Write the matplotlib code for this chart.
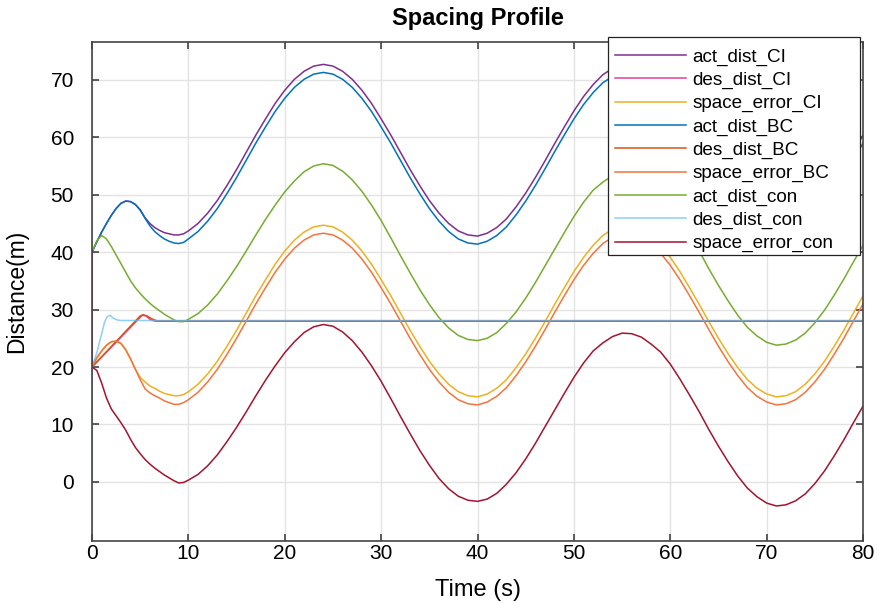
import matplotlib.pyplot as plt
from matplotlib.patches import Rectangle

plt.rcParams['font.family'] = ['Liberation Sans', 'DejaVu Sans']

# sample times (s): half-second steps during the transient, then 1 s
time = [0, 0.5, 1, 1.5, 2, 2.5, 3, 3.5, 4, 4.5,
        5, 5.5, 6, 6.5, 7, 7.5, 8, 8.5, 9, 9.5] + list(range(10, 81))

act_dist_CI = [
    40.0, 41.8, 43.5, 45.0, 46.4, 47.6, 48.5, 48.9, 48.8, 48.3,
    47.4, 46.0, 45.0, 44.3, 43.8, 43.4, 43.2, 43.0, 43.0, 43.2,
    43.7, 45.0, 46.8, 49.0, 51.6, 54.4, 57.4, 60.4, 63.2, 65.9,
    68.2, 70.1, 71.5, 72.4, 72.7, 72.4, 71.5, 70.1, 68.2, 65.9,
    63.2, 60.4, 57.4, 54.4, 51.6, 49.0, 46.8, 45.0, 43.7, 43.0,
    42.8, 43.3, 44.3, 45.8, 47.9, 50.3, 53.0, 55.9, 58.9, 61.8,
    64.6, 67.1, 69.2, 70.9, 72.0, 72.6, 72.6, 72.0, 70.9, 69.2,
    67.1, 64.6, 61.8, 58.9, 55.9, 53.0, 50.3, 47.9, 45.8, 44.3,
    43.3, 42.8, 43.0, 43.7, 45.0, 46.8, 49.0, 51.6, 54.4, 57.4,
    60.4]

act_dist_BC = [
    40.0, 41.8, 43.5, 45.0, 46.4, 47.6, 48.5, 48.9, 48.8, 48.3,
    47.3, 45.9, 44.6, 43.6, 42.9, 42.3, 41.9, 41.6, 41.5, 41.7,
    42.3, 43.6, 45.4, 47.6, 50.2, 53.0, 56.0, 59.0, 61.8, 64.5,
    66.8, 68.7, 70.1, 71.0, 71.3, 71.0, 70.1, 68.7, 66.8, 64.5,
    61.8, 59.0, 56.0, 53.0, 50.2, 47.6, 45.4, 43.6, 42.3, 41.6,
    41.4, 41.9, 42.9, 44.4, 46.5, 48.9, 51.6, 54.5, 57.5, 60.4,
    63.2, 65.7, 67.8, 69.5, 70.6, 71.2, 71.2, 70.6, 69.5, 67.8,
    65.7, 63.2, 60.4, 57.5, 54.5, 51.6, 48.9, 46.5, 44.4, 42.9,
    41.9, 41.4, 41.6, 42.3, 43.6, 45.4, 47.6, 50.2, 53.0, 56.0,
    59.0]

space_error_CI = [
    20.0, 21.6, 22.8, 23.8, 24.4, 24.5, 24.1, 23.0, 21.4, 19.6,
    18.2, 17.4, 16.7, 16.3, 15.8, 15.4, 15.2, 15.0, 15.0, 15.2,
    15.7, 17.0, 18.8, 21.0, 23.6, 26.4, 29.4, 32.4, 35.2, 37.9,
    40.2, 42.1, 43.5, 44.4, 44.7, 44.4, 43.5, 42.1, 40.2, 37.9,
    35.2, 32.4, 29.4, 26.4, 23.6, 21.0, 18.8, 17.0, 15.7, 15.0,
    14.8, 15.3, 16.3, 17.8, 19.9, 22.3, 25.0, 27.9, 30.9, 33.8,
    36.6, 39.1, 41.2, 42.9, 44.0, 44.6, 44.6, 44.0, 42.9, 41.2,
    39.1, 36.6, 33.8, 30.9, 27.9, 25.0, 22.3, 19.9, 17.8, 16.3,
    15.3, 14.8, 15.0, 15.7, 17.0, 18.8, 21.0, 23.6, 26.4, 29.4,
    32.4]

space_error_BC = [
    20.0, 21.6, 22.8, 23.8, 24.4, 24.5, 24.1, 23.0, 21.4, 19.6,
    17.8, 16.2, 15.5, 15.0, 14.6, 14.1, 13.8, 13.5, 13.5, 13.8,
    14.3, 15.6, 17.4, 19.6, 22.2, 25.0, 28.0, 31.0, 33.8, 36.5,
    38.8, 40.7, 42.1, 43.0, 43.3, 43.0, 42.1, 40.7, 38.8, 36.5,
    33.8, 31.0, 28.0, 25.0, 22.2, 19.6, 17.4, 15.6, 14.3, 13.6,
    13.4, 13.9, 14.9, 16.4, 18.5, 20.9, 23.6, 26.5, 29.5, 32.4,
    35.2, 37.7, 39.8, 41.5, 42.6, 43.2, 43.2, 42.6, 41.5, 39.8,
    37.7, 35.2, 32.4, 29.5, 26.5, 23.6, 20.9, 18.5, 16.4, 14.9,
    13.9, 13.4, 13.6, 14.3, 15.6, 17.4, 19.6, 22.2, 25.0, 28.0,
    31.0]

act_dist_con = [
    40.0, 42.0, 42.9, 42.3, 41.0, 39.5, 38.0, 36.5, 35.0, 33.8,
    32.8, 31.9, 31.1, 30.4, 29.8, 29.2, 28.7, 28.2, 27.9, 27.9,
    28.3, 29.3, 30.8, 32.7, 35.0, 37.5, 40.2, 43.0, 45.7, 48.2,
    50.5, 52.4, 54.0, 55.0, 55.4, 55.1, 54.1, 52.6, 50.6, 48.2,
    45.5, 42.5, 39.4, 36.4, 33.5, 30.9, 28.6, 26.8, 25.5, 24.8,
    24.6, 25.0, 26.0, 27.6, 29.6, 32.0, 34.7, 37.6, 40.5, 43.4,
    46.2, 48.7, 50.8, 52.2, 53.3, 53.9, 53.8, 53.2, 52.0, 50.6,
    48.5, 45.9, 43.1, 40.2, 37.1, 34.2, 31.5, 29.0, 26.9, 25.4,
    24.3, 23.8, 24.0, 24.7, 25.9, 27.7, 29.9, 32.5, 35.3, 38.3,
    41.2]

# the con error starts with a jump 40 -> 20 at t = 0
time_err_con = [0] + time
space_error_con = [
    40.0,
    20.0, 19.4, 17.2, 14.6, 12.7, 11.5, 10.3, 9.0, 7.4, 6.0,
    4.9, 3.9, 3.1, 2.4, 1.8, 1.2, 0.7, 0.2, -0.2, -0.1,
    0.3, 1.3, 2.8, 4.7, 7.0, 9.5, 12.2, 15.0, 17.7, 20.2,
    22.5, 24.4, 26.0, 27.0, 27.4, 27.1, 26.1, 24.6, 22.6, 20.2,
    17.5, 14.5, 11.4, 8.4, 5.5, 2.9, 0.6, -1.2, -2.5, -3.2,
    -3.4, -3.0, -2.0, -0.4, 1.6, 4.0, 6.7, 9.6, 12.5, 15.4,
    18.2, 20.7, 22.8, 24.2, 25.3, 25.9, 25.8, 25.2, 24.0, 22.6,
    20.5, 17.9, 15.1, 12.2, 9.1, 6.2, 3.5, 1.0, -1.1, -2.6,
    -3.7, -4.2, -4.0, -3.3, -2.1, -0.3, 1.9, 4.5, 7.3, 10.3,
    13.2]

# desired distances are flat after the start-up ramp
time_des_CI = [0, 5.2, 5.6, 6.0, 6.5, 80]
des_dist_CI = [20.0, 29.0, 28.9, 28.3, 28.0, 28.0]
time_des_BC = [0, 5.0, 5.3, 5.7, 6.2, 6.8, 80]
des_dist_BC = [20.0, 28.9, 29.1, 28.9, 28.4, 28.0, 28.0]
time_des_con = [0, 0, 0.5, 1.0, 1.3, 1.6, 1.9, 2.2, 2.6, 3.0, 80]
des_dist_con = [0.0, 20.0, 22.5, 25.8, 27.8, 28.8, 29.0, 28.5, 28.2, 28.1, 28.1]

fig = plt.figure(figsize=(8.78, 6.04), dpi=100)
ax = fig.add_axes([0.1048, 0.1043, 0.8782, 0.8262])

lw = 1.1
ax.plot(time, act_dist_CI, color='#7E2F8E', lw=lw, label='act_dist_CI')
ax.plot(time_des_CI, des_dist_CI, color='#E0409A', lw=lw, label='des_dist_CI')
ax.plot(time, space_error_CI, color='#EDB120', lw=lw, label='space_error_CI')
ax.plot(time, act_dist_BC, color='#0072BD', lw=lw, label='act_dist_BC')
ax.plot(time_des_BC, des_dist_BC, color='#D95319', lw=lw, label='des_dist_BC')
ax.plot(time, space_error_BC, color='#F4743B', lw=lw, label='space_error_BC')
ax.plot(time, act_dist_con, color='#77AC30', lw=lw, label='act_dist_con')
ax.plot(time_des_con, des_dist_con, color='#5DBCEE', lw=lw, alpha=0.7,
        label='des_dist_con')
ax.plot(time_err_con, space_error_con, color='#A2142F', lw=lw, label='space_error_con')

ax.set_xlim(0, 80)
ax.set_ylim(-10.3, 76.6)
ax.set_xticks(range(0, 81, 10))
ax.set_yticks(range(0, 71, 10))
ax.grid(True, color='#E3E3E3', lw=1.0)
ax.set_axisbelow(True)
ax.tick_params(direction='in', length=5, width=1.1, labelsize=15,
               top=True, right=True, color='#333333')
ax.tick_params(axis='x', pad=2)
ax.tick_params(axis='y', pad=13)
for s in ax.spines.values():
    s.set_color('#444444')
    s.set_linewidth(1.2)

ax.set_title('Spacing Profile', fontsize=17, fontweight='bold', pad=12)
ax.set_xlabel('Time (s)', fontsize=17, labelpad=12)
ax.set_ylabel('Distance(m)', fontsize=16.5, labelpad=16)

# MATLAB-style legend box, a bit wider than its contents
W, H = 878, 604
box = Rectangle((608 / W, 1 - 255 / H), 252 / W, 218 / H,
                transform=fig.transFigure, facecolor='white',
                edgecolor='#222222', lw=0.9, zorder=4, clip_on=False)
ax.add_artist(box)
leg = ax.legend(loc='upper left', bbox_to_anchor=(608 / W, 1 - 41 / H),
                bbox_transform=fig.transFigure, borderaxespad=0,
                fontsize=13.6, handlelength=3.75, handletextpad=0.35,
                labelspacing=0.315, borderpad=0.38, frameon=False)
leg.set_zorder(5)

fig.savefig('out.png', dpi=100)
